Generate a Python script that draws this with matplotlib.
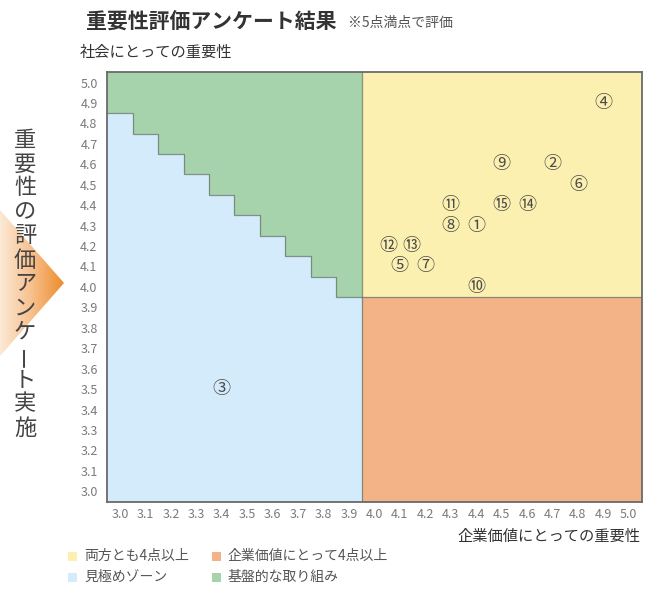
import matplotlib
matplotlib.use("Agg")
import matplotlib.pyplot as plt
import numpy as np
from matplotlib.patches import Rectangle, Polygon
from matplotlib.colors import LinearSegmentedColormap

plt.rcParams['font.family'] = ['Noto Sans CJK JP', 'DejaVu Sans']

# ---- data ----
labels = ['①', '②', '③', '④', '⑤', '⑥', '⑦', '⑧', '⑨', '⑩', '⑪', '⑫', '⑬', '⑭', '⑮']
x_vals = [4.4, 4.7, 3.4, 4.9, 4.1, 4.8, 4.2, 4.3, 4.5, 4.4, 4.3, 4.1, 4.1, 4.6, 4.5]
y_vals = [4.3, 4.6, 3.5, 4.9, 4.1, 4.5, 4.1, 4.3, 4.6, 4.0, 4.4, 4.2, 4.2, 4.4, 4.4]
# staircase: top of "見極めゾーン" for each 0.1 cell from 3.0 to 3.9
stair_x = [3.0, 3.1, 3.2, 3.3, 3.4, 3.5, 3.6, 3.7, 3.8, 3.9]
stair_top = [4.85, 4.75, 4.65, 4.55, 4.45, 4.35, 4.25, 4.15, 4.05, 3.95]
tick_vals = [3.0, 3.1, 3.2, 3.3, 3.4, 3.5, 3.6, 3.7, 3.8, 3.9, 4.0,
             4.1, 4.2, 4.3, 4.4, 4.5, 4.6, 4.7, 4.8, 4.9, 5.0]
threshold = 3.95
legend_items = ['両方とも4点以上', '企業価値にとって4点以上', '見極めゾーン', '基盤的な取り組み']

C_YEL = '#FCF0B0'
C_ORA = '#F3B386'
C_BLU = '#D3EBFB'
C_GRN = '#A6D3AC'
C_EDGE = '#6E7A70'

W, H = 648, 592
fig = plt.figure(figsize=(W / 100, H / 100), dpi=100)

def fx(px):
    return px / W

def fy(py):
    return 1 - py / H

ax = fig.add_axes([fx(107.3), fy(501.5), fx(641.5) - fx(107.3), fy(72.3) - fy(501.5)])
lo, hi = 2.95, 5.05
ax.set_xlim(lo, hi)
ax.set_ylim(lo, hi)

# regions
edges = [v - 0.05 for v in stair_x] + [stair_x[-1] + 0.05]
tops = stair_top + [stair_top[-1]]
ax.fill_between(edges, lo, tops, step='post', color=C_BLU, lw=0)
ax.fill_between(edges, tops, hi, step='post', color=C_GRN, lw=0)
ax.add_patch(Rectangle((threshold, threshold), hi - threshold, hi - threshold, color=C_YEL, lw=0))
ax.add_patch(Rectangle((threshold, lo), hi - threshold, threshold - lo, color=C_ORA, lw=0))
ax.step(edges, tops, where='post', color=C_EDGE, lw=0.9, alpha=0.8)
ax.plot([threshold, threshold], [lo, hi], color=C_EDGE, lw=0.9, alpha=0.8)
ax.plot([threshold, hi], [threshold, threshold], color=C_EDGE, lw=0.9, alpha=0.8)

# points
offsets = {'⑫': -8, '⑬': 8}
for lab, xv, yv in zip(labels, x_vals, y_vals):
    ax.annotate(lab, (xv, yv), xytext=(offsets.get(lab, 0), 0), textcoords='offset points',
                ha='center', va='center', fontsize=13, color='#4a4a4a')

for s in ax.spines.values():
    s.set_color('#6a6a6a')
    s.set_linewidth(1.3)
ax.set_xticks(tick_vals)
ax.set_yticks(tick_vals)
ax.set_xticklabels([f'{v:.1f}' for v in tick_vals])
ax.set_yticklabels([f'{v:.1f}' for v in tick_vals])
ax.tick_params(length=0, labelsize=9, labelcolor='#7a7a7a')
ax.tick_params(axis='x', pad=5)
ax.tick_params(axis='y', pad=7)

# titles
fig.text(fx(86), fy(22), '重要性評価アンケート結果', fontsize=15, fontweight='bold',
         color='#333333', va='center', ha='left')
fig.text(fx(348), fy(23), '※5点満点で評価', fontsize=10, color='#555555', va='center', ha='left')
fig.text(fx(80), fy(52), '社会にとっての重要性', fontsize=11, color='#333333', va='center', ha='left')
fig.text(fx(641), fy(536), '企業価値にとっての重要性', fontsize=11, color='#333333', va='center', ha='right')

# legend
leg_pos = [(72, 556), (216, 556), (72, 577), (216, 577)]
leg_cols = [C_YEL, C_ORA, C_BLU, C_GRN]
for (px, py), col, txt in zip(leg_pos, leg_cols, legend_items):
    fig.patches.append(Rectangle((fx(px - 4.5), fy(py + 4.5)), 9 / W, 9 / H,
                                 transform=fig.transFigure, color=col, lw=0))
    fig.text(fx(px + 12), fy(py), txt, fontsize=10, color='#555555', va='center', ha='left')

# left gradient arrow
dax = fig.add_axes([0, fy(360), fx(70), fy(205) - fy(360)])
dax.set_xlim(0, 70)
dax.set_ylim(360, 205)
dax.axis('off')
grad = np.linspace(0, 1, 256)[None, :]
cmap = LinearSegmentedColormap.from_list('og', ['#FCE9D6', '#F7C08C', '#EE8B2C'])
im = dax.imshow(grad, extent=[0, 64, 360, 205], cmap=cmap, aspect='auto', zorder=1)
tri = Polygon([(0, 210), (64, 283), (0, 356)], closed=True, transform=dax.transData,
              facecolor='none', edgecolor='none')
dax.add_patch(tri)
im.set_clip_path(tri)

# vertical text
vtext = '重要性の評価アンケート実施'
for i, ch in enumerate(vtext):
    yy = 140 + i * 24
    rot = 90 if ch == 'ー' else 0
    fig.text(fx(25), fy(yy), ch, fontsize=16, color='#444444', ha='center', va='center',
             rotation=rot, zorder=5)

fig.savefig('out.png', dpi=100)
